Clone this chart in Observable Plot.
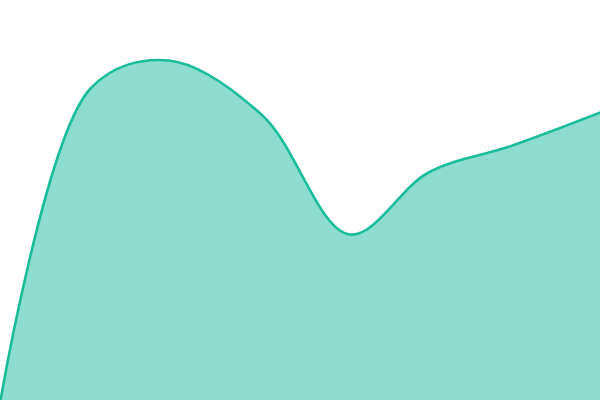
<!DOCTYPE html>
<html><head><meta charset="utf-8">
<script src="https://cdn.jsdelivr.net/npm/d3@7"></script>
<script src="https://cdn.jsdelivr.net/npm/@observablehq/plot@0.6"></script>
<style>html,body{margin:0;padding:0;background:#fff;}</style>
</head><body>
<div id="chart"></div>
<script>
const xs = [0, 90, 168, 262, 349, 428, 512, 600];
const values = [0, 312, 340, 285, 166, 228, 255, 288];
const data = xs.map((x, i) => ({x, y: values[i]}));
const chart = Plot.plot({
  width: 600, height: 400,
  margin: 0,
  x: {domain: [0, 600], axis: null},
  y: {domain: [0, 400], axis: null},
  marks: [
    Plot.areaY(data, {x: "x", y: "y", curve: "catmull-rom", fill: "#1abc9c", fillOpacity: 0.5}),
    Plot.lineY(data, {x: "x", y: "y", curve: "catmull-rom", stroke: "#1abc9c", strokeWidth: 2.6})
  ]
});
document.getElementById("chart").append(chart);
</script>
</body></html>
